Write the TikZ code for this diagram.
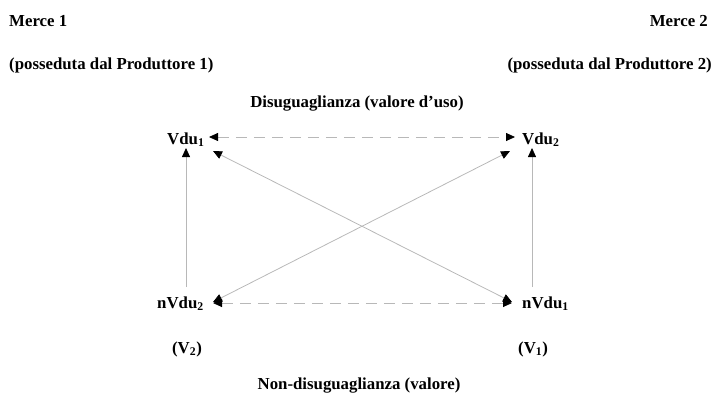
\documentclass[tikz,border=0pt]{standalone}
\usepackage{fontspec}
\setmainfont{Liberation Serif}
\usetikzlibrary{arrows.meta}
\begin{document}
\begin{tikzpicture}[x=1bp,y=-1bp,
  lbl/.style={inner sep=0pt,font=\fontsize{16.8bp}{20bp}\selectfont\bfseries},
  conn/.style={draw=black!28,line width=0.8bp},
  tipT/.style={-{Triangle[length=9bp,width=8bp,color=black]}},
  tipB/.style={{Triangle[length=9bp,width=8bp,color=black]}-{Triangle[length=9bp,width=8bp,color=black]}},
  dsh/.style={dash pattern=on 11bp off 7bp}]
\useasboundingbox (0,0) rectangle (714,392);
\node[lbl,anchor=base west] (m1) at (9,26) {Merce 1};
\node[lbl,anchor=base east] (m2) at (708,26) {Merce 2};
\node[lbl,anchor=base west] (p1) at (9,69) {(posseduta dal Produttore 1)};
\node[lbl,anchor=base east] (p2) at (712,69) {(posseduta dal Produttore 2)};
\node[lbl,anchor=base] (dis) at (357,107) {Disuguaglianza (valore d’uso)};
\node[lbl,anchor=base west] (vdu1) at (167,144) {Vdu\textsubscript{1}};
\node[lbl,anchor=base west] (vdu2) at (522,144) {Vdu\textsubscript{2}};
\node[lbl,anchor=base west] (nvdu2) at (157,308) {nVdu\textsubscript{2}};
\node[lbl,anchor=base west] (nvdu1) at (522,308) {nVdu\textsubscript{1}};
\node[lbl,anchor=base] (v2) at (187,353) {(V\textsubscript{2})};
\node[lbl,anchor=base] (v1) at (533,353) {(V\textsubscript{1})};
\node[lbl,anchor=base] (nd) at (359,389) {Non-disuguaglianza (valore)};
% connectors
\draw[conn,dsh,tipB] ([shift={(42,-7)}]vdu1.base west) -- ([shift={(-7,-7)}]vdu2.base west);
\draw[conn,dsh,tipB] ([shift={(56,-5)}]nvdu2.base west) -- ([shift={(-10,-5)}]nvdu1.base west);
\draw[conn,tipT] ([shift={(29,-21)}]nvdu2.base west) -- ([shift={(19,4)}]vdu1.base west);
\draw[conn,tipT] ([shift={(10,-21)}]nvdu1.base west) -- ([shift={(10,4)}]vdu2.base west);
\draw[conn,tipB] ([shift={(46,7)}]vdu1.base west) -- ([shift={(-10,-6)}]nvdu1.base west);
\draw[conn,tipB] ([shift={(56,-6)}]nvdu2.base west) -- ([shift={(-12,7)}]vdu2.base west);
\end{tikzpicture}
\end{document}
